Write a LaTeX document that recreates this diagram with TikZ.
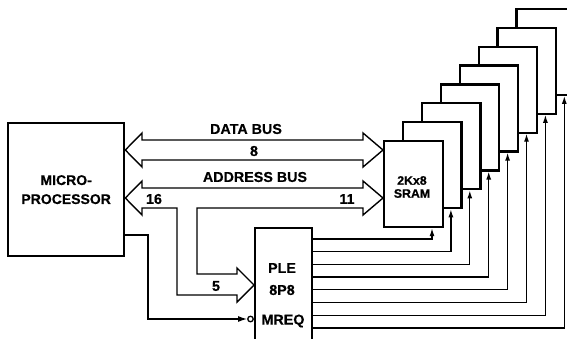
\documentclass[tikz,border=0pt]{standalone}
\usepackage{fontspec}
\setmainfont{Liberation Sans}[BoldFeatures={FakeBold=0.4}]
\usetikzlibrary{arrows.meta,calc}
\begin{document}
\begin{tikzpicture}[x=1pt,y=-1pt,
  lbl/.style={font=\bfseries\fontsize{14.3}{15}\selectfont, inner sep=0pt},
  smlbl/.style={font=\bfseries\fontsize{12.3}{14}\selectfont, inner sep=0pt, align=center},
  thickbox/.style={draw, line width=2.3pt, fill=white},
  busline/.style={draw, line width=1.4pt, fill=white, line join=miter},
  ctl/.style={line width=1.3pt},
  ctlarrow/.style={line width=1.3pt, -{Latex[length=8pt,width=5pt]}}
]
\useasboundingbox (0,0) rectangle (567,338);
\clip (0,0) rectangle (567,338);
% microprocessor
\node[thickbox, minimum width=116pt, minimum height=133pt, anchor=north west, inner sep=0pt,
      align=center, font=\bfseries\fontsize{14}{19}\selectfont] (mp) at (7,122) {MICRO-\\PROCESSOR};
% PLE
\node[thickbox, minimum width=57pt, minimum height=130pt, anchor=north west, inner sep=0pt] (ple) at (254,227) {};
\node[lbl] (pletxt) at (282,268) {PLE};
\node[lbl] (pletxt2) at (282,290) {8P8};
\node[lbl] (mreq) at (283,321) {MREQ};
% SRAM stack
\foreach \k in {7,6,...,0}{
  \node[thickbox, line width=2.2pt, minimum width=58.5pt, minimum height=86pt, anchor=north west, inner sep=0pt]
    (sram\k) at ({383+18.9*\k},{140-18.9*\k}) {};
}
\node[smlbl] (sramtxt) at (412,187) {2Kx8\\[-1pt]SRAM};
% control lines
\foreach \k in {0,...,7}{
  \coordinate (cs\k) at (ple.east |- 0,{239+12.7*\k});
  \coordinate (ce\k) at ({432+18.9*\k},{239+12.7*\k});
  \draw[ctlarrow] (cs\k) -- (ce\k) -- (ce\k |- sram\k.south);
}
% data bus
\draw[busline] (mp.east |- 0,150) -- (142,133) -- (142,140) -- (363,140) -- (363,133)
  -- (sram0.west |- 0,150) -- (363,167) -- (363,160) -- (142,160) -- (142,167) -- cycle;
% address bus with branch to PLE
\draw[busline] (mp.east |- 0,198) -- (142,181) -- (142,188) -- (363,188) -- (363,181)
  -- (sram0.west |- 0,198) -- (363,215) -- (363,208) -- (197,208) -- (197,274) -- (237,274)
  -- (237,268) -- (ple.west |- 0,285) -- (237,302) -- (237,295) -- (177,295) -- (177,208)
  -- (142,208) -- (142,215) -- cycle;
\node[lbl] (db) at (246,129) {DATA BUS};
\node[lbl] (n8) at (254,151) {8};
\node[lbl] (ab) at (255,177) {ADDRESS BUS};
\node[lbl] (n16) at (154,199) {16};
\node[lbl] (n11) at (347,199) {11};
\node[lbl] (n5) at (216,286) {5};
% MREQ line
\node[draw, circle, line width=1.3pt, minimum size=5.5pt, inner sep=0pt, fill=white] (bub) at (250.5,319) {};
\coordinate (mpo) at (mp.east |- 0,235);
\draw[ctl, -{Latex[length=9pt,width=6pt]}] (mpo) -- (148,235) -- (148,319) -- (bub.west);
\end{tikzpicture}
\end{document}
